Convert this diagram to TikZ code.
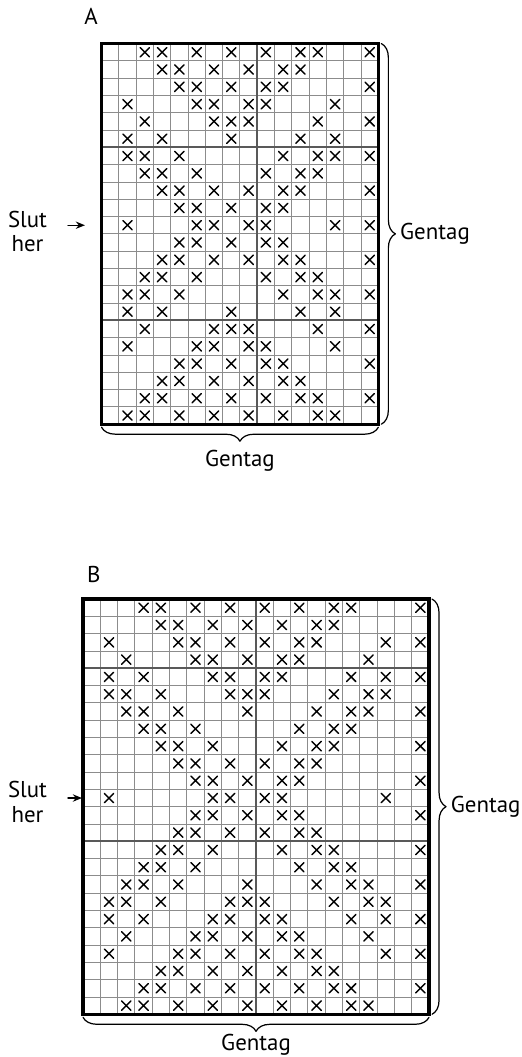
\documentclass[tikz,border=0pt]{standalone}
\usepackage{fontspec}
\setmainfont{PT Sans}
\usetikzlibrary{decorations.pathreplacing,arrows.meta}

\begin{document}
\begin{tikzpicture}[x=0.3cm,y=0.3cm,line cap=round,line join=round,>={Stealth[length=4.5pt,width=3.6pt]},
  every node/.style={inner sep=1pt,font=\fontsize{11.3}{12}\selectfont},
  rute/.style={black!45,line width=0.45pt,step=0.3cm},
  midt/.style={black!65,line width=1pt},
  kant/.style={line width=1.6pt,line cap=rect,line join=miter},
  kryds/.style={line width=0.7pt},
  klamme/.style={decorate,decoration={brace,amplitude=6.9pt},line width=0.6pt}]
  \def\xs{0.27}
  \useasboundingbox (0,0) rectangle (30.12,61.10);
  % 图 A
  \begin{scope}[shift={(5.87,36.58)}]
    \draw[rute] (0,0) grid (16,22);
    \draw[midt] (9,0) -- (9,22) (0,16) -- (16,16) (0,6) -- (16,6);
    \foreach \row/\cols in {1/{3,4,6,8,10,12,13,16}, 2/{4,5,7,9,11,12},
        3/{5,6,8,10,11,16}, 4/{2,6,7,9,10,14}, 5/{3,7,8,9,13,16},
        6/{2,4,8,12,14}, 7/{2,3,5,11,13,14,16}, 8/{3,4,6,10,12,13},
        9/{4,5,7,9,11,12,16}, 10/{5,6,8,10,11}, 11/{2,6,7,9,10,14,16},
        12/{5,6,8,10,11}, 13/{4,5,7,9,11,12,16}, 14/{3,4,6,10,12,13},
        15/{2,3,5,11,13,14,16}, 16/{2,4,8,12,14}, 17/{3,7,8,9,13,16},
        18/{2,6,7,9,10,14}, 19/{5,6,8,10,11,16}, 20/{4,5,7,9,11,12},
        21/{3,4,6,8,10,12,13,16}, 22/{2,3,5,7,9,11,13,14}} {
      \foreach \col in \cols {
        \draw[kryds] ({\col-0.5-\xs},{22.5-\row-\xs}) -- ++({2*\xs},{2*\xs})
          ({\col-0.5-\xs},{22.5-\row+\xs}) -- ++({2*\xs},{-2*\xs});
      }
    }
    \draw[kant] (0,0) rectangle (16,22);
    \coordinate (A-ne) at (16,22);
    \coordinate (A-se) at (16,0);
    \coordinate (A-sw) at (0,0);
  \end{scope}
  \node[anchor=base] (labA) at (5.26,59.71) {A};
  \node[align=center] (slutA) at (1.59,47.72) {Slut\\her};
  \coordinate (pilA1) at (3.93,48.08);
  \coordinate (pilA2) at (4.91,48.08);
  \draw[->,line width=0.7pt] (pilA1) -- (pilA2);
  \draw[klamme] ([xshift=1.5pt]A-ne) -- ([xshift=1.5pt]A-se)
    node[midway,right=8pt] (gentagA1) {Gentag};
  \draw[klamme] ([yshift=-1.5pt]A-se) -- ([yshift=-1.5pt]A-sw)
    node[midway,below=10pt] (gentagA2) {Gentag};
  % 图 B
  \begin{scope}[shift={(4.80,2.47)}]
    \draw[rute] (0,0) grid (20,24);
    \draw[midt] (10,0) -- (10,24) (0,20) -- (20,20) (0,10) -- (20,10);
    \foreach \row/\cols in {1/{4,5,7,9,11,13,15,16,20}, 2/{5,6,8,10,12,14,15},
        3/{2,6,7,9,11,13,14,18,20}, 4/{3,7,8,10,12,13,17},
        5/{2,4,8,9,11,12,16,18,20}, 6/{2,3,5,9,10,11,15,17,18},
        7/{3,4,6,10,14,16,17,20}, 8/{4,5,7,13,15,16},
        9/{5,6,8,12,14,15,20}, 10/{6,7,9,11,13,14}, 11/{7,8,10,12,13,20},
        12/{2,8,9,11,12,18}, 13/{7,8,10,12,13,20}, 14/{6,7,9,11,13,14},
        15/{5,6,8,12,14,15,20}, 16/{4,5,7,13,15,16},
        17/{3,4,6,10,14,16,17,20}, 18/{2,3,5,9,10,11,15,17,18},
        19/{2,4,8,9,11,12,16,18,20}, 20/{3,7,8,10,12,13,17},
        21/{2,6,7,9,11,13,14,18,20}, 22/{5,6,8,10,12,14,15},
        23/{4,5,7,9,11,13,15,16,20}, 24/{3,4,6,8,10,12,14,16,17}} {
      \foreach \col in \cols {
        \draw[kryds] ({\col-0.5-\xs},{24.5-\row-\xs}) -- ++({2*\xs},{2*\xs})
          ({\col-0.5-\xs},{24.5-\row+\xs}) -- ++({2*\xs},{-2*\xs});
      }
    }
    \draw[kant] (0,0) rectangle (20,24);
    \coordinate (B-ne) at (20,24);
    \coordinate (B-se) at (20,0);
    \coordinate (B-sw) at (0,0);
  \end{scope}
  \node[anchor=base] (labB) at (5.42,27.40) {B};
  \node[align=center] (slutB) at (1.59,14.74) {Slut\\her};
  \coordinate (pilB1) at (3.93,14.97);
  \coordinate (pilB2) at (4.74,14.97);
  \draw[->,line width=0.7pt] (pilB1) -- (pilB2);
  \draw[klamme] ([xshift=1.5pt]B-ne) -- ([xshift=1.5pt]B-se)
    node[midway,right=8pt] (gentagB1) {Gentag};
  \draw[klamme] ([yshift=-1.5pt]B-se) -- ([yshift=-1.5pt]B-sw)
    node[midway,below=7pt] (gentagB2) {Gentag};
\end{tikzpicture}
\end{document}
